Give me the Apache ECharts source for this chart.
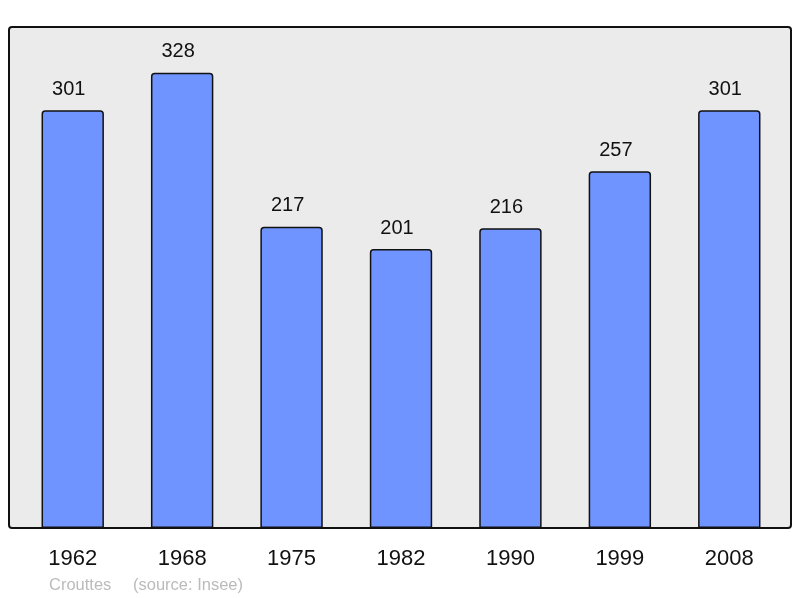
<!DOCTYPE html>
<html>
<head>
<meta charset="utf-8">
<script src="https://cdn.jsdelivr.net/npm/echarts@6/dist/echarts.min.js"></script>
<style>
  html, body { margin: 0; padding: 0; background: #fff; }
  #chart { width: 800px; height: 598px; }
</style>
</head>
<body>
<div id="chart"></div>
<script>
  // population par recensement
  var years = ['1962', '1968', '1975', '1982', '1990', '1999', '2008']
  var population = [301, 328, 217, 201, 216, 257, 301]
  var commune = 'Crouttes'
  var source = '(source: Insee)'

  var chart = echarts.init(document.getElementById('chart'))
  chart.setOption({
    animation: false,
    backgroundColor: '#ffffff',
    textStyle: { fontFamily: 'Liberation Sans, Arial, sans-serif' },
    graphic: [
      {
        type: 'rect',
        z: -10,
        shape: { x: 9, y: 27, width: 782, height: 501, r: 3 },
        style: { fill: '#ebebeb', stroke: '#111', lineWidth: 2 }
      },
      {
        type: 'text',
        left: 49,
        top: 577,
        style: { text: commune, fill: '#bbbbbb', fontSize: 16.5, fontFamily: 'Liberation Sans, Arial, sans-serif' }
      },
      {
        type: 'text',
        left: 133,
        top: 577,
        style: { text: source, fill: '#bbbbbb', fontSize: 16.5, fontFamily: 'Liberation Sans, Arial, sans-serif' }
      }
    ],
    grid: {
      left: 18,
      right: 16,
      top: 27,
      bottom: 70
    },
    xAxis: {
      type: 'category',
      data: years,
      axisLine: { show: false },
      axisTick: { show: false },
      axisLabel: { color: '#111', fontSize: 22, margin: 20 }
    },
    yAxis: {
      type: 'value',
      min: 0,
      max: 361,
      show: false,
      splitLine: { show: false }
    },
    series: [
      {
        type: 'bar',
        data: population,
        barWidth: '57%',
        itemStyle: {
          color: '#7094ff',
          borderColor: '#111',
          borderWidth: 1.5,
          borderRadius: [3, 3, 0, 0]
        },
        label: {
          show: true,
          position: 'top',
          distance: 11,
          offset: [-4, 0],
          color: '#111',
          fontSize: 20
        }
      }
    ]
  })
</script>
</body>
</html>
